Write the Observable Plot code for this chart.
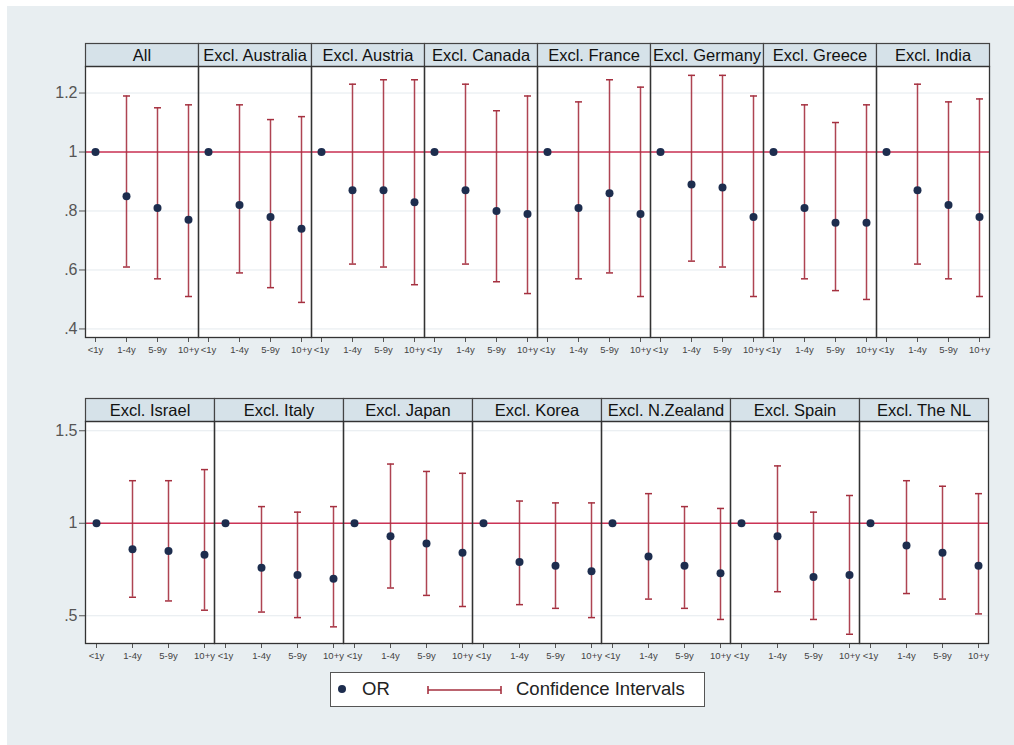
<!DOCTYPE html>
<html>
<head>
<meta charset="utf-8">
<script src="https://cdn.jsdelivr.net/npm/d3@7"></script>
<script src="https://cdn.jsdelivr.net/npm/@observablehq/plot@0.6"></script>
<style>
  html, body { margin: 0; padding: 0; background: #ffffff; width: 1014px; height: 745px; overflow: hidden; }
  #bg { position: absolute; left: 7px; top: 6px; width: 1007px; height: 739px; background: #e8eef1; }
  #top, #bottom { position: absolute; left: 0; }
  #top { top: 0; }
  #bottom { top: 370px; }
  #legend { position: absolute; left: 330px; top: 672px; width: 373px; height: 33px; background: #fff;
            border: 1px solid #555; font-family: "Liberation Sans", Arial, sans-serif; font-size: 18.5px; color: #222; }
  #legend svg { position: absolute; left: 0; top: 0; }
  #legend span { position: absolute; top: 5px; }
  svg { font-family: "Liberation Sans", Arial, sans-serif; }
</style>
</head>
<body>
<div id="bg"></div>
<div id="top"></div>
<div id="bottom"></div>
<div id="legend">
  <svg width="373" height="33">
    <circle cx="11" cy="16" r="4" fill="#1d2d4e"></circle>
    <line x1="97" y1="17" x2="170" y2="17" stroke="#a5303f" stroke-width="1.6"></line>
    <line x1="97" y1="13" x2="97" y2="21" stroke="#a5303f" stroke-width="1.6"></line>
    <line x1="170" y1="13" x2="170" y2="21" stroke="#a5303f" stroke-width="1.6"></line>
  </svg>
  <span style="left:31px">OR</span>
  <span style="left:185px">Confidence Intervals</span>
</div>
<script>
const ageGroups = ["<1y", "1-4y", "5-9y", "10+y"];

const panelsTop = ["All", "Excl. Australia", "Excl. Austria", "Excl. Canada",
                   "Excl. France", "Excl. Germany", "Excl. Greece", "Excl. India"];
const orTop = [
  [1, 0.85, 0.81, 0.77],
  [1, 0.82, 0.78, 0.74],
  [1, 0.87, 0.87, 0.83],
  [1, 0.87, 0.80, 0.79],
  [1, 0.81, 0.86, 0.79],
  [1, 0.89, 0.88, 0.78],
  [1, 0.81, 0.76, 0.76],
  [1, 0.87, 0.82, 0.78]
];
const lowTop = [
  [null, 0.61, 0.57, 0.51],
  [null, 0.59, 0.54, 0.49],
  [null, 0.62, 0.61, 0.55],
  [null, 0.62, 0.56, 0.52],
  [null, 0.57, 0.59, 0.51],
  [null, 0.63, 0.61, 0.51],
  [null, 0.57, 0.53, 0.50],
  [null, 0.62, 0.57, 0.51]
];
const highTop = [
  [null, 1.19, 1.15, 1.16],
  [null, 1.16, 1.11, 1.12],
  [null, 1.23, 1.245, 1.245],
  [null, 1.23, 1.14, 1.19],
  [null, 1.17, 1.245, 1.22],
  [null, 1.26, 1.26, 1.19],
  [null, 1.16, 1.10, 1.16],
  [null, 1.23, 1.17, 1.18]
];
const yTicksTop = [0.4, 0.6, 0.8, 1, 1.2];

const panelsBottom = ["Excl. Israel", "Excl. Italy", "Excl. Japan", "Excl. Korea",
                      "Excl. N.Zealand", "Excl. Spain", "Excl. The NL"];
const orBottom = [
  [1, 0.86, 0.85, 0.83],
  [1, 0.76, 0.72, 0.70],
  [1, 0.93, 0.89, 0.84],
  [1, 0.79, 0.77, 0.74],
  [1, 0.82, 0.77, 0.73],
  [1, 0.93, 0.71, 0.72],
  [1, 0.88, 0.84, 0.77]
];
const lowBottom = [
  [null, 0.60, 0.58, 0.53],
  [null, 0.52, 0.49, 0.44],
  [null, 0.65, 0.61, 0.55],
  [null, 0.56, 0.54, 0.49],
  [null, 0.59, 0.54, 0.48],
  [null, 0.63, 0.48, 0.40],
  [null, 0.62, 0.59, 0.51]
];
const highBottom = [
  [null, 1.23, 1.23, 1.29],
  [null, 1.09, 1.06, 1.09],
  [null, 1.32, 1.28, 1.27],
  [null, 1.12, 1.11, 1.11],
  [null, 1.16, 1.09, 1.08],
  [null, 1.31, 1.06, 1.15],
  [null, 1.23, 1.20, 1.16]
];
const yTicksBottom = [0.5, 1, 1.5];

function buildRows(panels, ors, lows, highs) {
  const rows = [];
  panels.forEach((p, i) => ageGroups.forEach((a, j) => {
    rows.push({panel: p, age: a, or: ors[i][j], lo: lows[i][j], hi: highs[i][j]});
  }));
  return rows;
}

const fmt = d => d === 1 ? "1" : String(d).replace(/^0/, "");

// horizontal cap symbol for the confidence-interval whiskers
const capSymbol = {
  draw(context, size) {
    const w = Math.sqrt(size / Math.PI);
    context.moveTo(-w, 0);
    context.lineTo(w, 0);
  }
};

function row(panels, rows, opts) {
  const panelH = opts.height - opts.marginTop - opts.marginBottom;
  const ci = rows.filter(d => d.lo != null);
  return Plot.plot({
    width: 1014,
    height: opts.height,
    marginLeft: 83,
    marginRight: 24,
    marginTop: opts.marginTop,
    marginBottom: opts.marginBottom,
    style: {background: "transparent", color: "#555", fontFamily: "'Liberation Sans', Arial, sans-serif"},
    fx: {domain: panels, padding: 0, axis: null, label: null},
    x: {type: "point", domain: ageGroups, padding: opts.xPad, label: null},
    y: {domain: opts.yDomain, label: null},
    marks: [
      Plot.frame({fill: "#ffffff", stroke: "none"}),
      Plot.frame({fill: "#d6e2e9", stroke: "#444", strokeWidth: 1.2, insetTop: -23, insetBottom: panelH}),
      Plot.text(panels, {fx: d => d, text: d => d, frameAnchor: "top", dy: -17.5, fontSize: 16.5, fill: "#111"}),
      Plot.gridY(opts.yTicks, {stroke: "#e4eaee", strokeOpacity: 1}),
      Plot.ruleY([1], {stroke: "#cc3355", strokeWidth: 1.3}),
      Plot.ruleX(ci, {fx: "panel", x: "age", y1: "lo", y2: "hi", stroke: "#a5303f", strokeWidth: 1.5, strokeOpacity: 0.9}),
      Plot.dot(ci, {fx: "panel", x: "age", y: "lo", symbol: capSymbol, r: 3.5, stroke: "#a5303f", strokeWidth: 1.5, fill: "none"}),
      Plot.dot(ci, {fx: "panel", x: "age", y: "hi", symbol: capSymbol, r: 3.5, stroke: "#a5303f", strokeWidth: 1.5, fill: "none"}),
      Plot.dot(rows, {fx: "panel", x: "age", y: "or", r: 4, fill: "#1d2d4e", stroke: "none"}),
      Plot.axisY({ticks: opts.yTicks, tickFormat: fmt, tickSize: 6, tickPadding: 2, fontSize: 16, fill: "#555", stroke: "#555"}),
      Plot.axisX({tickSize: 5, tickPadding: 4, fontSize: 9.5, fill: "#444", stroke: "#555"}),
      Plot.frame({stroke: "#333", strokeWidth: 1.3})
    ]
  });
}

document.getElementById("top").appendChild(
  row(panelsTop, buildRows(panelsTop, orTop, lowTop, highTop),
      {height: 370, marginTop: 66, marginBottom: 33, yDomain: [0.371, 1.29], yTicks: yTicksTop, xPad: 0.29}));
document.getElementById("bottom").appendChild(
  row(panelsBottom, buildRows(panelsBottom, orBottom, lowBottom, highBottom),
      {height: 305, marginTop: 51, marginBottom: 32, yDomain: [0.35, 1.55], yTicks: yTicksBottom, xPad: 0.265}));
</script>
</body>
</html>
